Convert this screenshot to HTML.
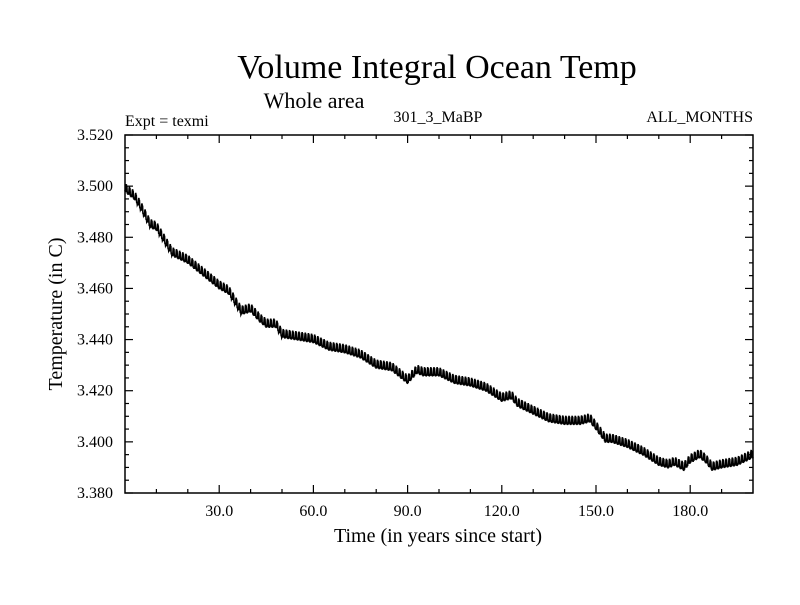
<!DOCTYPE html>
<html><head><meta charset="utf-8"><style>
body{margin:0;background:#fff}
svg text{font-family:"Liberation Serif",serif;fill:#000}
</style></head><body>
<svg id="chart" width="800" height="600">
<text x="437" y="78" font-size="34" text-anchor="middle">Volume Integral Ocean Temp</text>
<text x="314" y="108" font-size="22" text-anchor="middle">Whole area</text>
<text x="125" y="126" font-size="16">Expt = texmi</text>
<text x="438" y="122" font-size="16" text-anchor="middle">301_3_MaBP</text>
<text x="753" y="122" font-size="16" text-anchor="end">ALL_MONTHS</text>
<text transform="translate(62,314) rotate(-90)" font-size="20" text-anchor="middle">Temperature (in C)</text>
<text x="438" y="542" font-size="20" text-anchor="middle">Time (in years since start)</text>
<g id="axes"></g>
<path id="series" fill="none" stroke="#000" stroke-width="1.6" stroke-linejoin="miter"/>
<rect x="125" y="135" width="628" height="358" fill="none" stroke="#000" stroke-width="1.5"/>
</svg>
<script>
const years=[0,3,5,8,10,13,15,20,25,30,33,35,37,40,43,45,48,50,55,60,65,70,75,80,85,88,90,93,95,100,105,110,115,120,123,125,130,135,140,145,148,150,153,155,160,165,170,173,175,178,180,183,185,187,190,195,200];
const temps=[3.499,3.496,3.492,3.485,3.484,3.478,3.474,3.471,3.466,3.461,3.459,3.455,3.451,3.452,3.448,3.446,3.446,3.442,3.441,3.440,3.437,3.436,3.434,3.430,3.429,3.426,3.424,3.428,3.427,3.427,3.424,3.423,3.421,3.417,3.418,3.415,3.412,3.409,3.408,3.408,3.409,3.406,3.401,3.401,3.399,3.396,3.392,3.391,3.392,3.390,3.393,3.395,3.393,3.390,3.391,3.392,3.395];
const seasonal=[-0.0010,-0.0004,-0.0012,0.0002,0.0016,0.0022,0.0012,0.0018,-0.0002,-0.0012,-0.0006,-0.0014];
const xTicks=[30,60,90,120,150,180];
const xTickLabels=["30.0","60.0","90.0","120.0","150.0","180.0"];
const yTicks=[3.38,3.40,3.42,3.44,3.46,3.48,3.50,3.52];
const yTickLabels=["3.380","3.400","3.420","3.440","3.460","3.480","3.500","3.520"];
const X0=125,X1=753,Y0=493,Y1=135,xmin=0,xmax=200,ymin=3.38,ymax=3.52;
const sx=v=>X0+(v-xmin)/(xmax-xmin)*(X1-X0);
const sy=v=>Y0-(v-ymin)/(ymax-ymin)*(Y0-Y1);
const NS="http://www.w3.org/2000/svg";
const ax=document.getElementById('axes');
function line(x1,y1,x2,y2,name){const l=document.createElementNS(NS,'line');l.setAttribute('x1',x1);l.setAttribute('y1',y1);l.setAttribute('x2',x2);l.setAttribute('y2',y2);l.setAttribute('stroke','#000');l.setAttribute('stroke-width','1.2');


ax.appendChild(l);}
function text(x,y,s,anchor,name){const t=document.createElementNS(NS,'text');t.setAttribute('x',x);t.setAttribute('y',y);t.setAttribute('font-size','16');t.setAttribute('text-anchor',anchor);t.textContent=s;


ax.appendChild(t);}
for(let v=10;v<200;v+=10){const major=v%30===0;const L=major?8:4;const x=sx(v);line(x,Y0,x,Y0-L,'x-tick');line(x,Y1,x,Y1+L,'x-tick-top');}
xTicks.forEach((v,i)=>text(sx(v),516,xTickLabels[i],'middle','x-tick-label'));
for(let k=0;k<=28;k++){const v=ymin+k*0.005;const major=k%4===0;const L=major?8:4;const y=sy(v);line(X0,y,X0+L,y,'y-tick');line(X1,y,X1-L,y,'y-tick-right');}
yTicks.forEach((v,i)=>text(113,sy(v)+5,yTickLabels[i],'end','y-tick-label'));
let d='';
for(let m=0;m<=200*12;m++){const t=m/12;let j=0;while(j<years.length-2&&years[j+1]<t)j++;
const f=(t-years[j])/(years[j+1]-years[j]);const v=temps[j]+(temps[j+1]-temps[j])*f+seasonal[m%12];
d+=(m?'L':'M')+sx(t).toFixed(2)+','+sy(v).toFixed(2);}
document.getElementById('series').setAttribute('d',d);
</script>
</body></html>
